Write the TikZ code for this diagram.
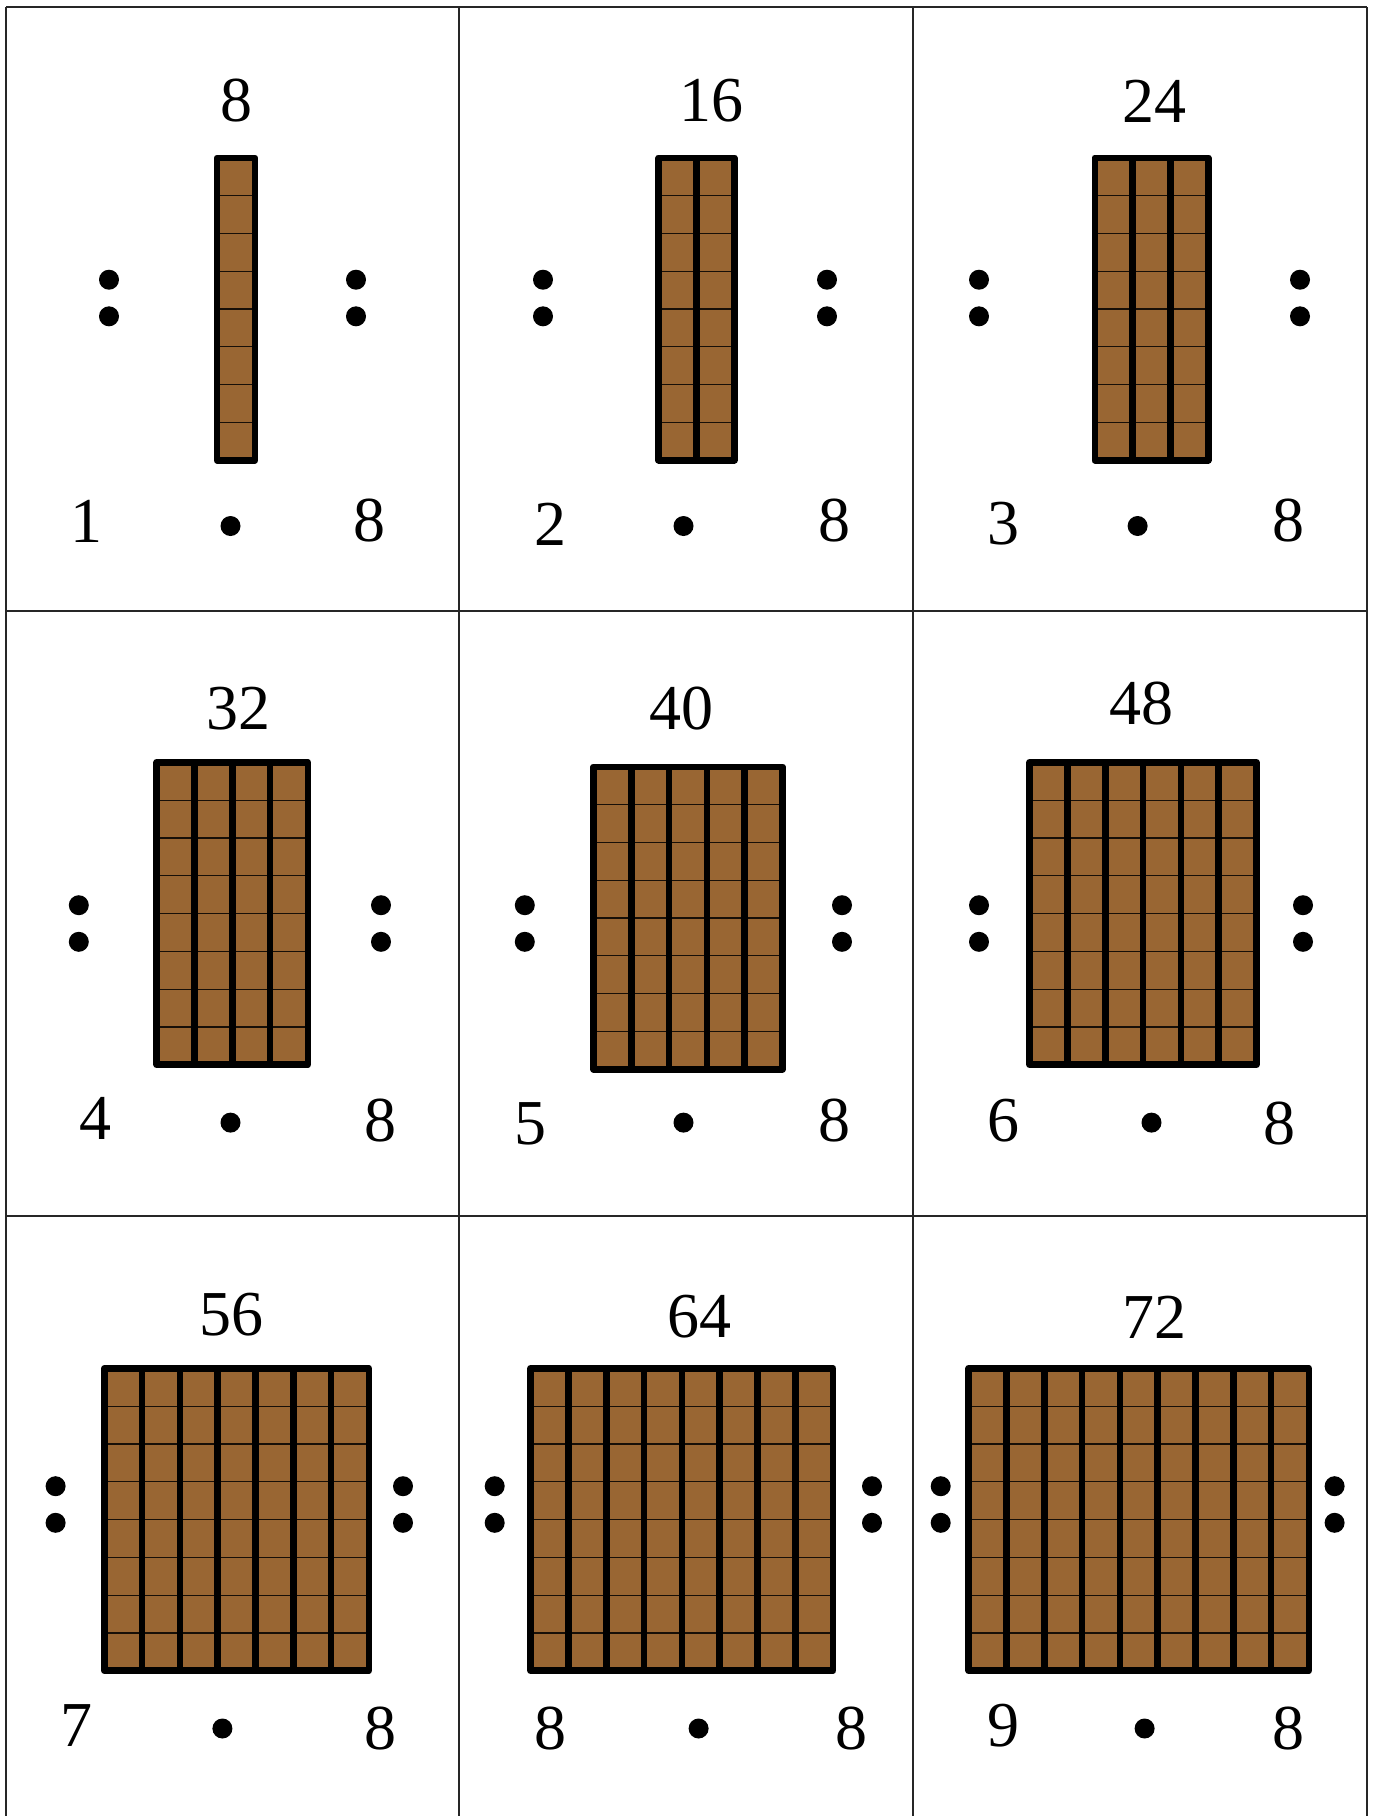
\documentclass[tikz,border=0pt]{standalone}
\usepackage{fontspec}
\setmainfont{Liberation Serif}
\definecolor{woodbrown}{RGB}{153,102,51}
\begin{document}
\begin{tikzpicture}[x=0.5pt,y=-0.5pt,
  gridline/.style={line width=0.7pt, black!85},
  numlabel/.style={inner sep=0pt, font=\fontsize{32}{36}\selectfont},
  dotmark/.style={circle, fill=black, draw=none, inner sep=0pt, minimum size=10pt},
  rowline/.style={line width=0.6pt, black!85!woodbrown},
  barframe/.style={line width=3.3pt, line join=round, black},
  barfill/.style={fill=woodbrown, draw=none},
]
\useasboundingbox (0,0) rectangle (1374,1816);
\fill[white] (0,0) rectangle (1374,1816);
% grid
\foreach \gx in {6,459,913,1367} \draw[gridline] (\gx,7) -- (\gx,1816);
\foreach \gy in {7,611,1216} \draw[gridline] (6,\gy) -- (1367,\gy);
% cells
\def\sq{37.8}
\foreach \id/\top/\tx/\ty/\n/\bx/\by/\cl/\cr/\cy/\a/\ax/\ay/\dx/\dy/\rx/\ry in {
0/8/236/101/1/236/309/109/356/298/1/86/521/230.5/526/369.5/521,
1/16/711/101/2/696.5/309/543/827/298/2/550/524/683.5/526/834/521,
2/24/1154/101/3/1151.5/309/979/1300/298/3/1003/524/1137.6/526/1288/521,
3/32/238.6/709/4/232.3/913.5/78.8/381/923.5/4/95/1118/230.5/1122.6/380/1121,
4/40/681/709/5/688/918/524.8/842/923.5/5/530.6/1123.7/683.5/1122.6/834/1121,
5/48/1141/704/6/1143/913.5/979/1303/923.5/6/1003/1121/1151.5/1122.6/1279/1123.7,
6/56/231.7/1315/7/236.5/1519.5/55.6/403/1504.5/7/76.5/1726/222.4/1728.5/380/1728.5,
7/64/699.7/1317/8/681.8/1519.5/494.7/872/1504.5/8/550/1728.5/698.6/1728.5/851.5/1728.5,
8/72/1154/1317/9/1138.8/1519.5/940.7/1334.6/1504.5/9/1003/1726/1144.6/1728.5/1288/1728.5}{
  \pgfmathsetmacro\L{\bx-\n*\sq/2}
  \pgfmathsetmacro\T{\by-4*\sq}
  \foreach \i in {1,...,\n}{
    \pgfmathsetmacro\xa{\L+(\i-1)*\sq}
    \pgfmathsetmacro\xb{\L+\i*\sq}
    \fill[barfill] (\xa,\T) rectangle (\xb,\T+8*\sq);
    \foreach \j in {1,...,7}{
      \draw[rowline] (\xa,\T+\j*\sq) -- (\xb,\T+\j*\sq);
    }
  }
  \foreach \i in {1,...,\n}{
    \pgfmathsetmacro\xa{\L+(\i-1)*\sq}
    \pgfmathsetmacro\xb{\L+\i*\sq}
    \draw[barframe] (\xa,\T) rectangle (\xb,\T+8*\sq);
  }
  \node[numlabel] (top\id) at (\tx,\ty) {\top};
  \node[dotmark] (cla\id) at (\cl,\cy-18.3) {};
  \node[dotmark] (clb\id) at (\cl,\cy+18.3) {};
  \node[dotmark] (cra\id) at (\cr,\cy-18.3) {};
  \node[dotmark] (crb\id) at (\cr,\cy+18.3) {};
  \node[numlabel] (fa\id) at (\ax,\ay) {\a};
  \node[dotmark] (times\id) at (\dx,\dy) {};
  \node[numlabel] (fb\id) at (\rx,\ry) {8};
}
\end{tikzpicture}
\end{document}
